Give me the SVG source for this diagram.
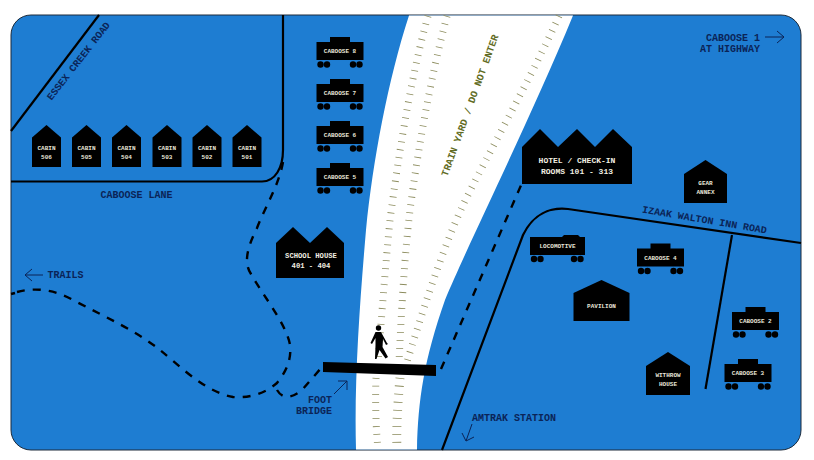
<svg xmlns="http://www.w3.org/2000/svg" width="814" height="460" viewBox="0 0 814 460">
<defs>
<style>
text{font-family:"Liberation Mono","DejaVu Sans Mono",monospace;font-weight:700}
.n{fill:#000}
.t{fill:#e9e6da;font-size:6px;text-anchor:middle}
.h{fill:#f2efe2;font-size:8px;text-anchor:middle}
.s{fill:#f2efe2;font-size:7.2px;text-anchor:middle}
.l{fill:#0b2457;font-size:10px;text-anchor:middle}
.road{fill:none;stroke:#000;stroke-width:2.2}
.dash{fill:none;stroke:#000;stroke-width:2.400;stroke-dasharray:8 8}
.arr{fill:none;stroke:#0b2457;stroke-width:1}
.tie{fill:none;stroke:#8b8b5c;stroke-width:7;stroke-dasharray:0.8 7.200}
</style>
<g id="caboose"><rect class="n" x="0" y="5" width="47" height="18"/><rect class="n" x="13.5" y="0" width="20" height="6"/><circle class="n" cx="4" cy="27.5" r="3.2"/><circle class="n" cx="10.5" cy="27.5" r="3.2"/><circle class="n" cx="36.5" cy="27.5" r="3.2"/><circle class="n" cx="43" cy="27.5" r="3.2"/></g>
<path id="cabin" class="n" d="M0 12.5L14.5 0L29 12.5V42H0Z"/>
</defs>
<rect width="814" height="460" fill="#fff"/>
<rect x="11" y="15" width="790" height="435" rx="20" fill="#1e7dd2" stroke="#1c2a3a" stroke-width="1"/>
<path d="M409 15.500C388 80 373 160 366 230C360 300 354 380 356 449.500H417C418 400 424 360 445 300C470 240 530 120 573 15.500Z" fill="#fff"/>
<g id="connectors">
<path class="tie" d="M428 16C410 80 398 160 390 220C384 280 380 340 378 362"/>
<path class="tie" d="M447 16C430 80 418 150 410 210C404 260 401 320 399 362"/>
<path class="tie" d="M559 16C530 80 490 150 463 205C440 255 420 320 407 362"/>
<path class="tie" d="M376 378C375 400 376 430 378 449"/>
<path class="tie" style="stroke-width:9" d="M400 378C398 400 396 430 397 449"/>
<path class="road" d="M11 131L99 15"/>
<path class="road" d="M11 181.500H262C275 181.500 283 168 283 150V15"/>
<path class="road" d="M442 450L523 235C533 214 550 207 568 209L801 243"/>
<path class="road" d="M732 235L705.500 389"/>
<path class="dash" d="M283 162C279 185 266 205 257 228C248 246 243 262 251 274C262 294 287 325 290 345C292 362 284 374 277 383C262 396 245 398 233 397C205 392 180 366 160 350C135 330 105 317 73 300C52 288 32 288 17 292"/>
<path class="road" style="stroke-width:2.400" d="M11 294L15 293"/>
<path class="dash" d="M277 390C283 400 292 398 302 390L322 367"/>
<path class="dash" d="M441 369L522 183"/>
<path class="arr" d="M765 37H784M777 31L784 37L777 43"/>
<path class="arr" d="M43 275H25M32 269L25 275L32 281"/>
<path class="arr" d="M334 394L347 381M338 381H347V390"/>
<path class="arr" d="M472 424L466 441M462 433L466 441L474 437"/>
</g>
<path id="footbridge" class="n" d="M323 362L436 365V376L323 372Z"/>
<g id="walker" class="n"><circle cx="378.500" cy="328" r="2.700"/><path d="M375.500 332H381L387 343L388 344L386 345L383 339L382.500 347L388 357L385.500 358.500L379.500 350L376.500 359H375L375.500 345L375.500 338L372 344L370.500 343Z"/></g>
<g id="cabin-506"><use href="#cabin" x="32" y="125"/><text class="t" x="46.500" y="150">CABIN</text><text class="t" x="46.500" y="159">506</text></g>
<g id="cabin-505"><use href="#cabin" x="72" y="125"/><text class="t" x="86.500" y="150">CABIN</text><text class="t" x="86.500" y="159">505</text></g>
<g id="cabin-504"><use href="#cabin" x="112" y="125"/><text class="t" x="126.500" y="150">CABIN</text><text class="t" x="126.500" y="159">504</text></g>
<g id="cabin-503"><use href="#cabin" x="152.500" y="125"/><text class="t" x="167" y="150">CABIN</text><text class="t" x="167" y="159">503</text></g>
<g id="cabin-502"><use href="#cabin" x="192.500" y="125"/><text class="t" x="207" y="150">CABIN</text><text class="t" x="207" y="159">502</text></g>
<g id="cabin-501"><use href="#cabin" x="232.500" y="125"/><text class="t" x="247" y="150">CABIN</text><text class="t" x="247" y="159">501</text></g>
<g id="caboose-8"><use href="#caboose" x="316.500" y="37"/><text class="t" x="340" y="53">CABOOSE 8</text></g>
<g id="caboose-7"><use href="#caboose" x="316.500" y="79"/><text class="t" x="340" y="95">CABOOSE 7</text></g>
<g id="caboose-6"><use href="#caboose" x="316.500" y="121"/><text class="t" x="340" y="137">CABOOSE 6</text></g>
<g id="caboose-5"><use href="#caboose" x="316.500" y="163"/><text class="t" x="340" y="179">CABOOSE 5</text></g>
<g id="caboose-4"><use href="#caboose" x="637" y="243.500"/><text class="t" x="660.500" y="260">CABOOSE 4</text></g>
<g id="caboose-2"><use href="#caboose" x="732" y="307"/><text class="t" x="755.500" y="323">CABOOSE 2</text></g>
<g id="caboose-3"><use href="#caboose" x="724.500" y="359"/><text class="t" x="748" y="375">CABOOSE 3</text></g>
<g id="locomotive"><path class="n" d="M530 237H562L564 235H578L580 237H585V255H530Z"/><circle class="n" cx="534" cy="259" r="3.200"/><circle class="n" cx="540.500" cy="259" r="3.200"/><circle class="n" cx="574" cy="259" r="3.200"/><circle class="n" cx="580.500" cy="259" r="3.200"/><text class="t" x="557.500" y="248">LOCOMOTIVE</text></g>
<g id="hotel"><path class="n" d="M522 147L540 129L558 147L577 129L595 147L613 129L632 147V184H522Z"/><text class="h" x="577" y="163">HOTEL / CHECK-IN</text><text class="h" x="577" y="174">ROOMS 101 - 313</text></g>
<g id="school-house"><path class="n" d="M276 243L293 227L310 243L327 227L344 243V278H276Z"/><text class="s" x="311" y="258">SCHOOL HOUSE</text><text class="s" x="311" y="268">401 - 404</text></g>
<g id="gear-annex"><path class="n" d="M684 174L705.500 160L727 174V203H684Z"/><text class="t" x="705.500" y="185">GEAR</text><text class="t" x="705.500" y="194">ANNEX</text></g>
<g id="pavilion"><path class="n" d="M573.500 293L601.500 280L629.500 293V321H573.500Z"/><text class="t" x="601.500" y="308">PAVILION</text></g>
<g id="withrow-house"><path class="n" d="M646 366L668 352L690 366V395H646Z"/><text class="t" x="668" y="377">WITHROW</text><text class="t" x="668" y="386">HOUSE</text></g>
<g id="labels">
<text class="l" transform="translate(81 63) rotate(-52)">ESSEX CREEK ROAD</text>
<text class="l" x="136.500" y="198">CABOOSE LANE</text>
<text class="l" transform="translate(473 106.500) rotate(-70)" style="fill:#5f6b22">TRAIN YARD / DO NOT ENTER</text>
<text class="l" transform="translate(704 223) rotate(9.500)">IZAAK WALTON INN ROAD</text>
<text class="l" style="text-anchor:end" x="760" y="41">CABOOSE 1</text>
<text class="l" style="text-anchor:end" x="760" y="52">AT HIGHWAY</text>
<text class="l" x="65.500" y="278">TRAILS</text>
<text class="l" style="text-anchor:end" x="332" y="403">FOOT</text>
<text class="l" style="text-anchor:end" x="332" y="414">BRIDGE</text>
<text class="l" x="514" y="421">AMTRAK STATION</text>
</g>
</svg>
